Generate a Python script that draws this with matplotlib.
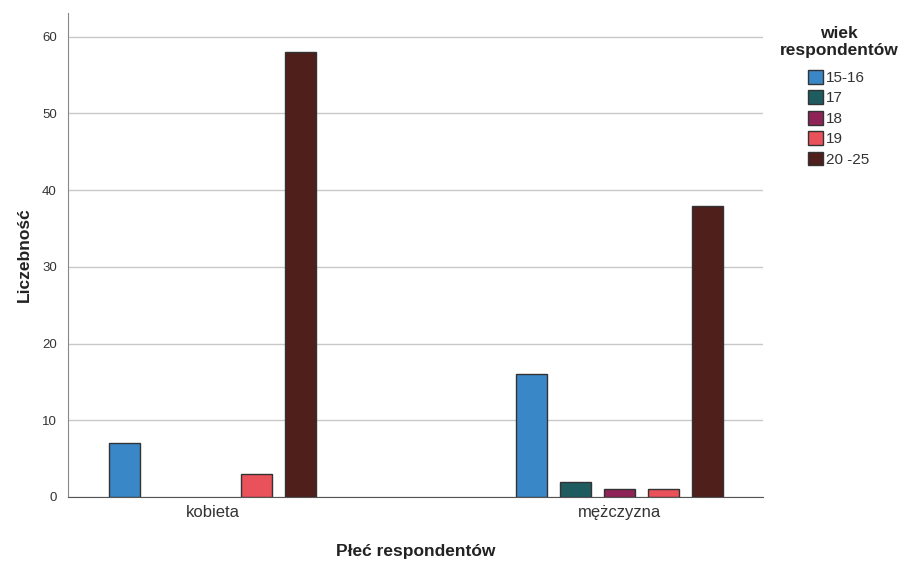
import numpy as np
import matplotlib.pyplot as plt
from matplotlib.patches import Patch

plt.rcParams['font.family'] = ['Liberation Sans', 'DejaVu Sans']

groups = ['kobieta', 'mężczyzna']
ages = ['15-16', '17', '18', '19', '20 -25']
counts_k = [7, 0, 0, 3, 58]
counts_m = [16, 2, 1, 1, 38]
colors = ['#3a87c8', '#1f5c60', '#8e2357', '#e9525a', '#4f1f1c']

fig = plt.figure(figsize=(9.08, 5.65), dpi=100)
ax = fig.add_axes([0.0749, 0.1204, 0.7654, 0.8566])

x = np.arange(len(groups))
step = 0.108
width = 0.076
data = np.array([counts_k, counts_m])
for i, age in enumerate(ages):
    vals = data[:, i]
    pos = x + (i - 2) * step
    for p, v in zip(pos, vals):
        if v > 0:
            ax.bar(p, v, width=width, color=colors[i], edgecolor='#333333',
                   linewidth=1.0, zorder=3)

ax.set_xlim(-0.3546, 1.351)
ax.set_ylim(0, 63.1)
ax.set_yticks(range(0, 61, 10))
ax.yaxis.grid(True, color='#c8c8c8', linewidth=1.0, zorder=0)
ax.set_axisbelow(True)
ax.set_xticks(x)
ax.set_xticklabels(groups, fontsize=12, color='#333333')
ax.tick_params(axis='y', length=0, labelsize=9.5, labelcolor='#333333', pad=8)
ax.tick_params(axis='x', length=0, pad=6)
for s in ['top', 'right']:
    ax.spines[s].set_visible(False)
ax.spines['left'].set_color('#888888')
ax.spines['bottom'].set_color('#555555')

ax.set_ylabel('Liczebność', fontsize=12.5, fontweight='bold', color='#222222', labelpad=7)
ax.set_xlabel('Płeć respondentów', fontsize=12.5, fontweight='bold', color='#222222', labelpad=17)

# legend title drawn separately so it can sit centred above the entries
fig.text(839 / 908, 1 - 42 / 565, 'wiek\nrespondentów', ha='center', va='center',
         multialignment='center', fontsize=12.5, fontweight='bold', color='#222222',
         linespacing=1.1)

handles = [Patch(facecolor=c, edgecolor='#333333', label=a) for c, a in zip(colors, ages)]
leg = fig.legend(handles=handles, loc='upper left', bbox_to_anchor=(808 / 908, 1 - 70 / 565),
                 frameon=False, fontsize=11, borderpad=0, borderaxespad=0,
                 handlelength=1.0, handleheight=1.0, handletextpad=0.2,
                 labelspacing=0.35)
for t in leg.get_texts():
    t.set_color('#333333')

fig.savefig('out.png', dpi=100)
